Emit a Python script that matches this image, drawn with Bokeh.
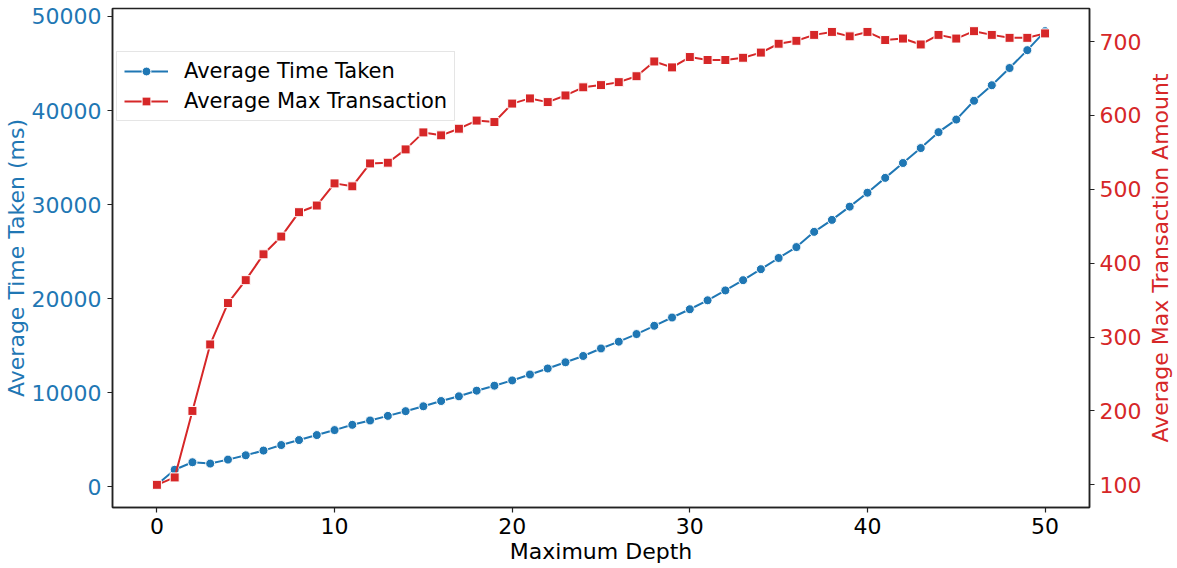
from bokeh.plotting import figure
from bokeh.layouts import row
from bokeh.models import Range1d, LinearAxis, Legend, LegendItem, FixedTicker
from bokeh.embed import file_html
from bokeh.resources import INLINE

depth = list(range(51))
avg_time_ms = [200, 1800, 2600, 2460, 2880, 3340, 3840, 4430, 4960, 5490,
               6020, 6580, 7040, 7530, 8030, 8550, 9110, 9610, 10210, 10740,
               11300, 11930, 12570, 13230, 13900, 14700, 15420, 16230, 17110, 17990,
               18870, 19820, 20870, 21960, 23130, 24320, 25480, 27100, 28370, 29780,
               31260, 32840, 34420, 36010, 37700, 39040, 41040, 42690, 44520, 46420,
               48440]
avg_max_tx = [100, 110, 200, 290, 346, 377, 412, 436, 469, 478,
              508, 504, 535, 536, 554, 577, 573, 582, 593, 591,
              616, 623, 618, 627, 638, 641, 645, 653, 673, 665,
              679, 675, 675, 678, 685, 697, 701, 709, 713, 707,
              713, 702, 704, 696, 709, 704, 714, 709, 705, 705,
              711]
x_ticks = [0, 10, 20, 30, 40, 50]
left_ticks = [0, 10000, 20000, 30000, 40000, 50000]
right_ticks = [100, 200, 300, 400, 500, 600, 700]

X_RANGE = (-2.5, 52.5)
TIME_RANGE = (-2212, 50850)
TX_RANGE = (69.3, 744.7)

BLUE = "#1f77b4"
RED = "#d62728"
FONT = "DejaVu Sans"
FS = "22px"

FRAME_W = 977
FRAME_H = 499
TOP = 8

p = figure(frame_width=FRAME_W, frame_height=FRAME_H, output_backend="svg",
           toolbar_location=None,
           x_range=Range1d(*X_RANGE), y_range=Range1d(*TIME_RANGE),
           min_border_top=TOP, min_border_left=106, min_border_right=52,
           min_border_bottom=0)
p.extra_y_ranges = {"tx": Range1d(*TX_RANGE)}
p.grid.visible = False
p.outline_line_color = "#222222"
p.outline_line_width = 1.5
p.background_fill_color = "white"
p.border_fill_color = "white"

def style_axis(ax, color, label_standoff=6, axis_standoff=0):
    ax.axis_line_color = "#222222"
    ax.axis_line_width = 1.5
    ax.major_tick_line_color = "#222222"
    ax.major_tick_line_width = 1.2
    ax.major_tick_out = 5
    ax.major_tick_in = 0
    ax.minor_tick_line_color = None
    ax.major_label_text_font = FONT
    ax.major_label_text_font_size = FS
    ax.major_label_text_color = color
    ax.axis_label_text_font = FONT
    ax.axis_label_text_font_size = FS
    ax.axis_label_text_font_style = "normal"
    ax.axis_label_text_color = color
    ax.major_label_standoff = label_standoff
    ax.axis_label_standoff = axis_standoff

xa = p.xaxis[0]
style_axis(xa, "black", label_standoff=5, axis_standoff=2)
xa.ticker = FixedTicker(ticks=x_ticks)
xa.axis_label = "Maximum Depth"

ya = p.yaxis[0]
style_axis(ya, BLUE, label_standoff=6, axis_standoff=0)
ya.ticker = FixedTicker(ticks=left_ticks)
ya.axis_label = "Average Time Taken (ms)"

ra = LinearAxis(y_range_name="tx")
style_axis(ra, RED, label_standoff=5, axis_standoff=0)
ra.ticker = FixedTicker(ticks=right_ticks)
p.add_layout(ra, "right")

bl = p.line(depth, avg_time_ms, line_color=BLUE, line_width=2)
bs = p.scatter(depth, avg_time_ms, marker="circle", size=9, fill_color=BLUE,
               line_color="white", line_width=1)
rl = p.line(depth, avg_max_tx, line_color=RED, line_width=2, y_range_name="tx")
rs = p.scatter(depth, avg_max_tx, marker="square", size=9, fill_color=RED,
               line_color="white", line_width=1, y_range_name="tx")

LEG_H = 69
legend = Legend(items=[LegendItem(label="Average Time Taken", renderers=[bl, bs]),
                       LegendItem(label="Average Max Transaction", renderers=[rl, rs])],
                location=(4, FRAME_H - 44 - LEG_H))
legend.label_text_font = FONT
legend.label_text_font_size = "21px"
legend.label_text_color = "black"
legend.glyph_width = 44
legend.glyph_height = 22
legend.label_height = 24
legend.label_standoff = 16
legend.spacing = 6
legend.padding = 7
legend.margin = 0
legend.border_line_color = "#cccccc"
legend.border_line_width = 1
legend.background_fill_alpha = 0.8
p.add_layout(legend, "center")

# Narrow companion figure that carries the right-hand axis title, reading bottom-to-top
# (a left-side axis label), vertically aligned with the main plot frame.
p2 = figure(frame_width=1, frame_height=FRAME_H, output_backend="svg", toolbar_location=None,
            x_range=Range1d(0, 1), y_range=Range1d(*TX_RANGE),
            min_border_top=TOP, min_border_left=0, min_border_right=0, min_border_bottom=30)
p2.outline_line_color = None
p2.grid.visible = False
p2.xaxis.visible = False
p2.background_fill_color = "white"
p2.border_fill_color = "white"
ta = p2.yaxis[0]
ta.ticker = FixedTicker(ticks=[])
ta.axis_line_color = None
ta.major_tick_out = 0
ta.major_tick_in = 0
ta.minor_tick_line_color = None
ta.major_label_standoff = 0
ta.axis_label = "Average Max Transaction Amount"
ta.axis_label_standoff = 0
ta.axis_label_text_font = FONT
ta.axis_label_text_font_size = FS
ta.axis_label_text_font_style = "normal"
ta.axis_label_text_color = RED

layout = row(p, p2, spacing=0)
open("out.html", "w").write(file_html(layout, INLINE))
